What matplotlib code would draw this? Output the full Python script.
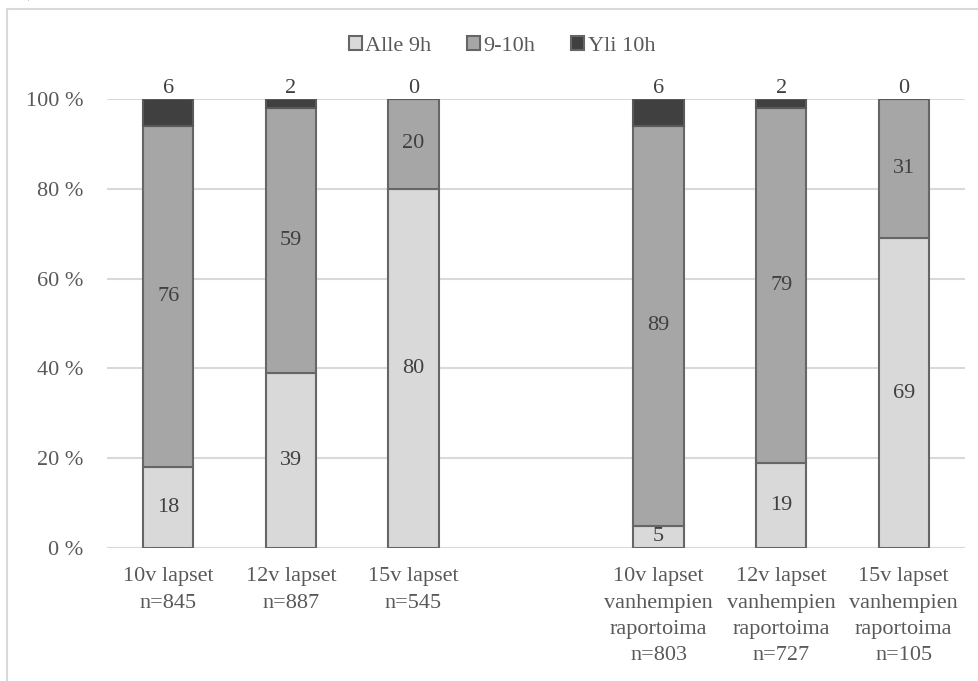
import numpy as np
import matplotlib.pyplot as plt
from matplotlib.patches import Rectangle

plt.rcParams['font.family'] = ['Liberation Serif', 'DejaVu Serif']

# data
labels = ['10v lapset\nn=845', '12v lapset\nn=887', '15v lapset\nn=545', '',
          '10v lapset\nvanhempien\nraportoima\nn=803',
          '12v lapset\nvanhempien\nraportoima\nn=727',
          '15v lapset\nvanhempien\nraportoima\nn=105']
series_names = ['Alle 9h', '9-10h', 'Yli 10h']
alle9 = [18, 39, 80, None, 5, 19, 69]
h9_10 = [76, 59, 20, None, 89, 79, 31]
yli10 = [6, 2, 0, None, 6, 2, 0]
colors = ['#d9d9d9', '#a6a6a6', '#404040']

txt = '#595959'
fig = plt.figure(figsize=(9.79, 6.81), dpi=100)
ax = fig.add_axes([107 / 979, 1 - 548 / 681, (965 - 107) / 979, (548 - 99) / 681])

x = np.arange(len(labels))
mask = [v is not None for v in alle9]
xs = x[mask]
a = np.array([v for v in alle9 if v is not None], dtype=float)
b = np.array([v for v in h9_10 if v is not None], dtype=float)
c = np.array([v for v in yli10 if v is not None], dtype=float)

w = 0.41
ax.bar(xs, a, w, color=colors[0], edgecolor='#666666', linewidth=1.5, label=series_names[0], zorder=3)
ax.bar(xs, b, w, bottom=a, color=colors[1], edgecolor='#666666', linewidth=1.5, label=series_names[1], zorder=3)
ax.bar(xs, c, w, bottom=a + b, color=colors[2], edgecolor='#595959', linewidth=1.5, label=series_names[2], zorder=3)

fs = 16
for xi, ai, bi, ci in zip(xs, a, b, c):
    ax.text(xi, ai / 2, f'{ai:g}', ha='center', va='center', fontsize=fs, color='#404040', zorder=4)
    ax.text(xi, ai + bi / 2, f'{bi:g}', ha='center', va='center', fontsize=fs, color='#404040', zorder=4)
    ax.text(xi, 100.3, f'{ci:g}', ha='center', va='bottom', fontsize=fs, color='#404040', zorder=4)

ax.set_xlim(-0.5, 6.5)
ax.set_ylim(0, 100)
ax.set_yticks(range(0, 101, 20))
ax.set_yticklabels([f'{t} %' for t in range(0, 101, 20)])
ax.set_xticks(x)
ax.set_xticklabels(labels, linespacing=1.52)
ax.tick_params(axis='both', length=0, labelsize=fs, colors=txt)
ax.tick_params(axis='y', pad=17)
ax.tick_params(axis='x', pad=14)
ax.grid(axis='y', color='#d9d9d9', linewidth=1.5, zorder=0)
for s in ax.spines.values():
    s.set_visible(False)
ax.axhline(0, color='#d9d9d9', linewidth=1.5, zorder=2)

leg = fig.legend(loc='center', bbox_to_anchor=(502 / 979, 1 - 46 / 681), ncol=3, frameon=False,
                 fontsize=fs, handlelength=0.6, handleheight=0.6, handletextpad=0.15,
                 columnspacing=1.6, labelcolor=txt)
for p in leg.get_patches():
    p.set_edgecolor('#666666')

# outer frame
fig.patches.append(Rectangle((7 / 979, -0.1), 1.2, 1 - 9 / 681 + 0.1, transform=fig.transFigure,
                             fill=False, edgecolor='#d9d9d9', linewidth=1.5))
fig.text(18 / 979, 1.012, 'a)', fontsize=16, style='italic', color='black', ha='left', va='center')

fig.savefig('out.png', dpi=100, facecolor='white')
